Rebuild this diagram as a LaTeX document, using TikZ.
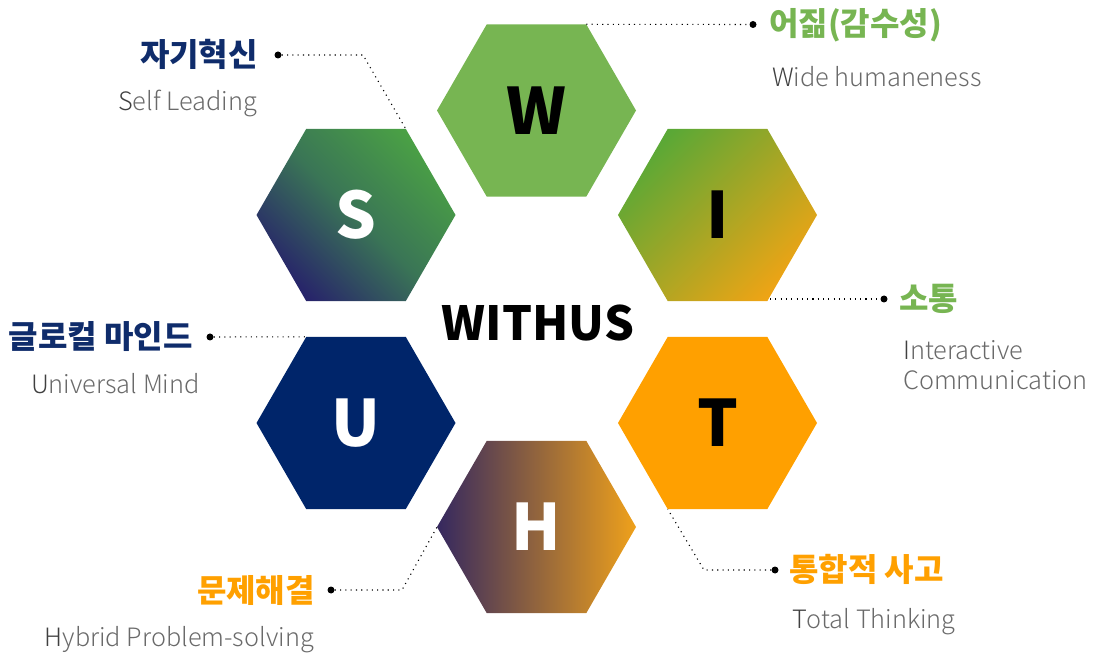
\documentclass[tikz,border=0pt]{standalone}
\usepackage{fontspec}
\newfontfamily\kr{Noto Sans CJK KR}
\IfFontExistsTF{Noto Sans CJK KR Light}{\newfontfamily\krl{Noto Sans CJK KR Light}}{\newfontfamily\krl{Noto Sans CJK KR}}
\usetikzlibrary{shapes.geometric,calc}
\definecolor{wgreen}{HTML}{77B552}
\definecolor{navy}{HTML}{00256A}
\definecolor{lnavy}{HTML}{0F2C6B}
\definecolor{orng}{HTML}{FFA000}
\definecolor{sgreen}{HTML}{4AA045}
\definecolor{smid}{HTML}{3A7556}
\definecolor{snavy}{HTML}{27246A}
\definecolor{igreen}{HTML}{5AA836}
\definecolor{iorange}{HTML}{EEA415}
\definecolor{hpurple}{HTML}{35285F}
\definecolor{horange}{HTML}{EFA11B}
\definecolor{txtgray}{HTML}{6A6A6A}
\definecolor{txtdark}{HTML}{404040}
\begin{document}
\begin{tikzpicture}[x=1pt,y=1pt,
  hex/.style={regular polygon, regular polygon sides=6,
    minimum size=199pt, inner sep=0pt, draw=none,
    font=\kr\bfseries\fontsize{64}{64}\selectfont},
  kor/.style={inner sep=0pt, font=\kr\bfseries\fontsize{32}{32}\selectfont},
  eng/.style={inner sep=0pt, font=\krl\fontsize{25.3}{25.3}\selectfont, text=txtgray},
  leader/.style={line width=1.1pt, dash pattern=on 1.1pt off 4.2pt},
  dot/.style={circle, fill=black, inner sep=0pt, minimum size=7pt}
]
\useasboundingbox (0,0) rectangle (1099,653);

% hexagons
\node[hex, fill=wgreen] (W) at (536.5,542.5) {W};
\node[hex, top color=sgreen, bottom color=snavy, middle color=smid, shading angle=-45, text=white] (S) at (356,438) {S};
\node[hex, top color=igreen, bottom color=iorange, shading angle=45] (I) at (717.5,438) {I};
\node[hex, fill=navy, text=white] (U) at (356,230) {U};
\node[hex, fill=orng] (T) at (717.5,230) {T};
\node[hex, left color=hpurple, right color=horange, text=white] (H) at (536.5,126) {H};

% centre title
\node[inner sep=0pt, font=\kr\bfseries\fontsize{47}{47}\selectfont] (C) at (538,330) {WITHUS};

% S label
\node[dot] (dS) at (278,598) {};
\coordinate (bS) at (363,598);
\coordinate (vS) at ($(S.center)+(49.75,86.2)$);
\draw[leader] (dS) -- (bS) -- (vS);
\node[kor, text=lnavy, anchor=east] (kS) at (258,599) {자기혁신};
\node[eng, anchor=base east] (eS) at (257,542) {\textcolor{txtdark}{S}elf Leading};

% W label
\node[dot] (dW) at (753,628.5) {};
\coordinate (vW) at ($(W.center)+(49.75,86.2)$);
\draw[leader] (vW) -- (dW);
\node[kor, text=wgreen, anchor=west] (kW) at (769,628) {어짊(감수성)};
\node[eng, anchor=base west] (eW) at (772,566) {\textcolor{txtdark}{W}ide humaneness};

% I label
\node[dot] (dI) at (884,354) {};
\coordinate (cI) at (770,354);
\draw[leader] (cI) -- (dI);
\node[kor, text=wgreen, anchor=west] (kI) at (899,354) {소통};
\node[eng, anchor=base west] (eI1) at (903,293) {\textcolor{txtdark}{I}nteractive};
\node[eng, anchor=base west] (eI2) at (903,263) {Communication};

% U label
\node[dot] (dU) at (210,316) {};
\coordinate (vU) at ($(U.center)+(-49.75,86.2)$);
\draw[leader] (dU) -- (vU);
\node[kor, text=lnavy, anchor=east] (kU) at (193,316) {글로컬 마인드};
\node[eng, anchor=base east] (eU) at (200,259) {\textcolor{txtdark}{U}niversal Mind};

% H label
\node[dot] (dH) at (331,63) {};
\coordinate (bH) at (402,63);
\coordinate (vH) at ($(H.center)+(-99.5,0)$);
\draw[leader] (dH) -- (bH) -- (vH);
\node[kor, text=orng, anchor=east] (kH) at (315,63) {문제해결};
\node[eng, anchor=base east] (eH) at (314,7) {\textcolor{txtdark}{H}ybrid Problem-solving};

% T label
\node[dot] (dT) at (775,83) {};
\coordinate (bT) at (704,83);
\coordinate (vT) at ($(T.center)+(-49.75,-86.2)$);
\draw[leader] (dT) -- (bT) -- (vT);
\node[kor, text=orng, anchor=west] (kT) at (789,84) {통합적 사고};
\node[eng, anchor=base west] (eT) at (792,25) {\textcolor{txtdark}{T}otal Thinking};
\end{tikzpicture}
\end{document}
